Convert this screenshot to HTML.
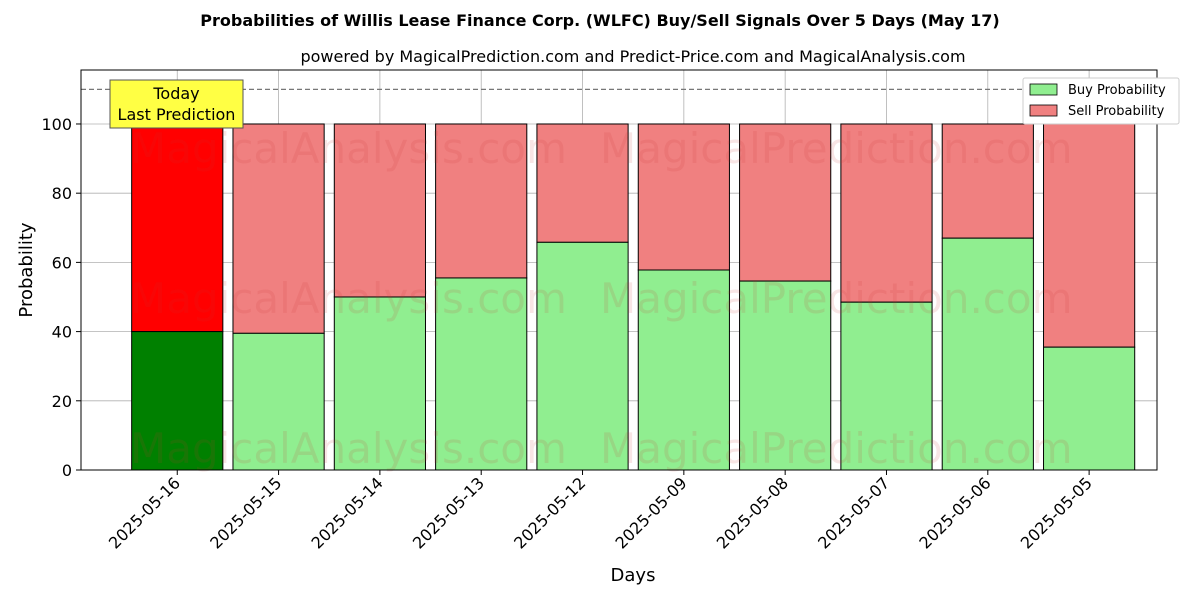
<!DOCTYPE html>
<html><head><meta charset="utf-8"><style>
body{margin:0;background:#fff;font-family:"Liberation Sans","DejaVu Sans",sans-serif;}
svg text{font-family:"DejaVu Sans","Liberation Sans",sans-serif;}
</style></head><body>
<svg id="chart" width="1200" height="600" viewBox="0 0 1200 600">
<text x="600" y="26" text-anchor="middle" font-size="16" font-weight="bold">Probabilities of Willis Lease Finance Corp. (WLFC) Buy/Sell Signals Over 5 Days (May 17)</text>
<text x="633" y="62" text-anchor="middle" font-size="16">powered by MagicalPrediction.com and Predict-Price.com and MagicalAnalysis.com</text>
<g id="grid"></g>
<g id="bars"></g>
<g id="wm" opacity="0.12" font-size="42" fill="#c33">
<text x="130" y="163">MagicalAnalysis.com</text>
<text x="600" y="163">MagicalPrediction.com</text>
<text x="130" y="313">MagicalAnalysis.com</text>
<text x="600" y="313">MagicalPrediction.com</text>
<text x="130" y="463">MagicalAnalysis.com</text>
<text x="600" y="463">MagicalPrediction.com</text>
</g>
<g id="axes"></g>
<rect x="81" y="70" width="1076" height="400" fill="none" stroke="#000" stroke-width="1"/>
<g>
<rect x="110" y="80" width="133" height="48" fill="#ffff44" stroke="#555" stroke-width="1"/>
<text x="176.5" y="99" text-anchor="middle" font-size="16">Today</text>
<text x="176.5" y="120" text-anchor="middle" font-size="16">Last Prediction</text>
</g>
<g>
<rect x="1023" y="78" width="156" height="46" fill="#fff" stroke="#ccc" rx="2"/>
<rect x="1030" y="84" width="27" height="11" fill="#90ee90" stroke="#000" stroke-width="0.8"/>
<text x="1068" y="94" font-size="13">Buy Probability</text>
<rect x="1030" y="105" width="27" height="11" fill="#f08080" stroke="#000" stroke-width="0.8"/>
<text x="1068" y="115" font-size="13">Sell Probability</text>
</g>
<text x="633" y="581" text-anchor="middle" font-size="18">Days</text>
<text transform="translate(32,270) rotate(-90)" text-anchor="middle" font-size="18">Probability</text>
</svg>
<script>
const categories=["2025-05-16","2025-05-15","2025-05-14","2025-05-13","2025-05-12","2025-05-09","2025-05-08","2025-05-07","2025-05-06","2025-05-05"];
const buyValues=[40,39.5,50,55.5,65.8,57.8,54.6,48.5,67,35.5];
const yTicks=[0,20,40,60,80,100];
const refLine=110;
const NS="http://www.w3.org/2000/svg";
const X0=81,X1=1157,Y0=470,Y1=70,XMIN=-0.95,XMAX=9.67,YMIN=0,YMAX=115.6;
const xs=v=>X0+(v-XMIN)/(XMAX-XMIN)*(X1-X0);
const ys=v=>Y0-(v-YMIN)/(YMAX-YMIN)*(Y0-Y1);
function mk(t,a,p){const e=document.createElementNS(NS,t);for(const k in a)e.setAttribute(k,a[k]);p.appendChild(e);return e;}
const grid=document.getElementById('grid'),bars=document.getElementById('bars'),axes=document.getElementById('axes');
yTicks.forEach(t=>{const y=ys(t);
 const l=mk('line',{x1:X0,x2:X1,y1:y,y2:y,stroke:'#b0b0b0','stroke-width':0.8},grid);
 
 
 mk('line',{x1:X0-5,x2:X0,y1:y,y2:y,stroke:'#000'},axes);
 const tx=mk('text',{x:X0-9,y:y+6,'text-anchor':'end','font-size':16},axes);tx.textContent=t;
 
 
});
categories.forEach((c,i)=>{const x=xs(i);
 const l=mk('line',{x1:x,x2:x,y1:Y1,y2:Y0,stroke:'#b0b0b0','stroke-width':0.8},grid);
 
 
 mk('line',{x1:x,x2:x,y1:Y0,y2:Y0+5,stroke:'#000'},axes);
 const tx=mk('text',{transform:`translate(${x+4},${Y0+14}) rotate(-45)`,'text-anchor':'end','font-size':16},axes);tx.textContent=c;
 
 
 const w=xs(0.45)-xs(-0.45),b=buyValues[i];
 const today=i===0;
 const s=mk('rect',{x:x-w/2,y:ys(100),width:w,height:ys(b)-ys(100),fill:today?'#ff0000':'#f08080',stroke:'#000','stroke-width':1},bars);
 
 
 const r=mk('rect',{x:x-w/2,y:ys(b),width:w,height:ys(0)-ys(b),fill:today?'#008000':'#90ee90',stroke:'#000','stroke-width':1},bars);
 
 
});
const d=mk('line',{x1:X0,x2:X1,y1:ys(refLine),y2:ys(refLine),stroke:'#777','stroke-dasharray':'5,3','stroke-width':1.2},axes);


</script>
</body></html>
